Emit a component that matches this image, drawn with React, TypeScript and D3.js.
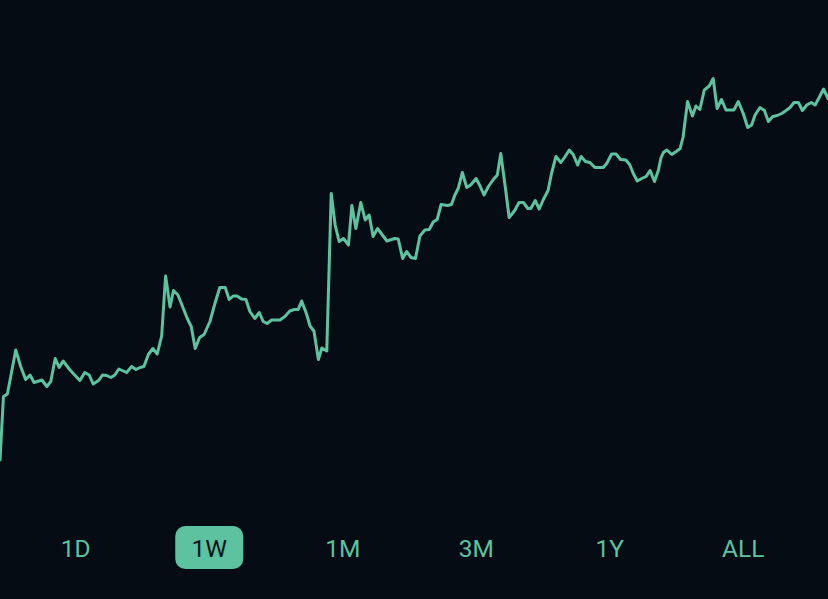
import React, { useMemo } from "react";
import * as d3 from "d3";

// Time (hours into the week) and price values
const hours = [
  0, 0.7, 1.5, 3.2, 4.2, 5.2, 6.1, 6.9, 8.5, 9.5, 10.3, 11.2, 12.0, 12.8, 14.2, 16.2, 17.2, 18.1, 18.9, 20.0,
  20.8, 21.6, 22.5, 23.3, 24.1, 25.7, 26.7, 27.6, 28.4, 29.2, 30.1, 31.0, 31.9, 32.8, 33.6, 34.5, 35.2, 36.1, 37.0, 38.0,
  38.8, 39.6, 40.5, 41.4, 42.6, 43.6, 44.6, 45.7, 46.5, 47.3, 48.1, 49.0, 49.9, 50.7, 51.7, 52.6, 53.4, 54.2, 55.1, 56.8,
  57.8, 58.8, 59.7, 60.5, 61.2, 62.2, 62.9, 63.7, 64.6, 65.3, 66.3, 67.2, 68.0, 68.8, 69.7, 70.7, 71.4, 72.2, 73.2, 74.1,
  74.9, 75.7, 76.6, 78.5, 80.1, 80.8, 81.7, 82.5, 83.4, 84.3, 85.2, 86.2, 87.1, 87.9, 88.7, 89.5, 90.8, 91.6, 92.3, 93.0,
  93.8, 94.7, 95.5, 96.6, 97.4, 98.2, 99.1, 100.1, 100.9, 101.6, 102.6, 103.3, 104.5, 105.3, 106.2, 107.1, 107.7, 108.6, 109.4, 110.2,
  111.2, 111.9, 112.8, 113.8, 114.6, 115.5, 116.3, 117.2, 117.9, 118.8, 119.7, 120.7, 122.4, 123.1, 124.1, 125.0, 125.9, 127.0, 127.8, 128.5,
  129.3, 130.2, 131.1, 131.9, 132.8, 133.6, 134.1, 134.6, 135.3, 136.3, 137.2, 138.0, 138.6, 139.5, 140.5, 141.2, 142.0, 142.9, 143.9, 144.7,
  145.5, 146.4, 147.3, 148.9, 149.8, 150.8, 151.7, 152.5, 153.2, 154.2, 155.1, 155.9, 156.8, 157.7, 158.6, 159.5, 160.3, 161.1, 162.0, 162.8,
  163.7, 164.6, 165.4, 166.2, 167.1, 168.0,
];

const prices = [
  100, 112.7, 113.2, 122, 118.7, 116.1, 117, 115.5, 116, 114.7, 115.7, 120.3, 118.5, 119.8, 118, 115.9, 117.5, 117, 115.2, 115.9,
  117, 116.9, 116.5, 117, 118.2, 117.5, 118.7, 118.1, 118.5, 118.7, 121.1, 122.3, 121.2, 124.8, 136.8, 130.6, 133.9, 133, 130.8, 128.3,
  126.7, 122.3, 124.5, 125.1, 127.7, 131.3, 134.5, 134.5, 132.1, 132.8, 132.8, 132.2, 132.1, 129.7, 128.3, 129.5, 127.7, 127.3, 128, 128,
  128.7, 129.8, 130.1, 130.1, 131.8, 129.2, 126.8, 125.8, 120.1, 122.4, 121.8, 153.3, 147, 143.7, 144.3, 143, 150.9, 146.3, 151.5, 148,
  149, 144.7, 146.3, 143.8, 144.3, 144.2, 140.3, 141.7, 140.5, 140.3, 144.8, 146, 146.1, 147.6, 148.1, 151.1, 150.9, 151.1, 153, 154.4,
  157.5, 154.5, 155, 156.3, 154.8, 153, 154.7, 156.1, 157, 161.3, 154, 148.5, 150, 151.5, 151.5, 150.3, 150.3, 151.9, 150.2, 152,
  153.9, 157.3, 160.7, 159.5, 160.6, 162, 161.1, 159, 160.7, 159.7, 159.5, 158.5, 158.5, 159.3, 161.2, 161.2, 160.1, 160, 159, 157.3,
  155.8, 156.3, 156.7, 157.9, 155.7, 158, 160.4, 161.5, 162, 161.1, 161.7, 162.3, 164.6, 171.7, 168.8, 170.8, 170.1, 174, 174.8, 176.3,
  170.3, 172.1, 170, 170, 171.7, 169.3, 166.5, 167, 169, 170.5, 169.9, 167.7, 168.7, 168.9, 169.3, 169.9, 170.5, 171.5, 171.5, 169.9,
  171, 171.5, 171, 172.5, 174.2, 172.3,
];

const ranges = ["1D", "1W", "1M", "3M", "1Y", "ALL"];
const selectedRange = "1W";

const W = 828;
const H = 599;
const BG = "#060c14";
const GREEN = "#5cc29f";

export default function App() {
  const data = useMemo(() => hours.map((h, i) => ({ h, p: prices[i] })), []);

  const x = d3.scaleLinear().domain([0, 168]).range([0, W]);
  const ext = d3.extent(prices) as [number, number];
  const y = d3.scaleLinear().domain(ext).range([460, 78.5]);

  const line = d3
    .line<{ h: number; p: number }>()
    .x((d) => x(d.h))
    .y((d) => y(d.p))
    .curve(d3.curveLinear);

  const band = d3.scaleBand<string>().domain(ranges).range([9, 810]);

  return (
    <div style={{ position: "fixed", left: 0, top: 0, width: W, height: H, background: BG }}>
      <svg width={W} height={H} style={{ display: "block" }}>
        <rect x={0} y={0} width={W} height={H} fill={BG} />
        <path
          d={line(data) || ""}
          fill="none"
          stroke={GREEN}
          strokeWidth={3}
          strokeLinejoin="round"
          strokeLinecap="round"
        />
        {ranges.map((r) => {
          const cx = (band(r) as number) + band.bandwidth() / 2;
          const sel = r === selectedRange;
          return (
            <g key={r}>
              {sel && (
                <rect x={cx - 34} y={526} width={68} height={43} rx={10} ry={10} fill={GREEN} />
              )}
              <text
                x={cx}
                y={557}
                textAnchor="middle"
                fontFamily="Roboto, 'Noto Sans', sans-serif"
                fontSize={24.5}
                fontWeight={400}
                fill={sel ? "#07161a" : GREEN}
              >
                {r}
              </text>
            </g>
          );
        })}
      </svg>
    </div>
  );
}
